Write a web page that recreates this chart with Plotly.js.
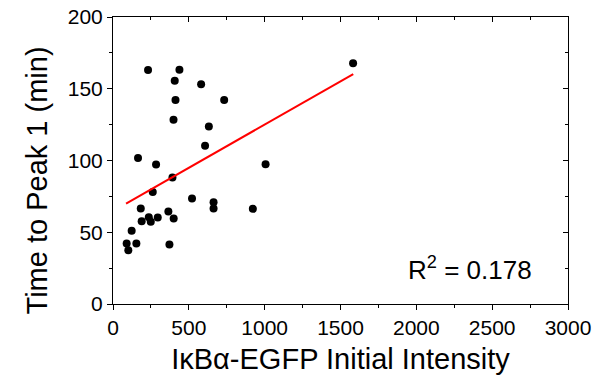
<!DOCTYPE html>
<html>
<head>
<meta charset="utf-8">
<script src="https://cdn.plot.ly/plotly-3.0.1.min.js"></script>
<style>html,body{margin:0;padding:0;background:#fff;}#chart{width:598px;height:377px;}</style>
</head>
<body>
<div id="chart"></div>
<script>
// Scatter data: IκBα-EGFP initial intensity vs time to peak 1 (min)
const intensity = [231, 438, 407, 581, 412, 733, 399, 632, 607, 165, 284, 1006, 392,
                   262, 521, 663, 663, 922, 183, 365, 236, 295, 189, 249, 400, 123,
                   90, 154, 372, 101, 1583];
const timeToPeak = [163.0, 163.2, 155.6, 153.2, 142.1, 142.1, 128.4, 123.7, 110.2, 101.8, 97.2, 97.4, 88.1,
                    78.1, 73.5, 70.9, 66.5, 66.3, 66.5, 64.4, 60.5, 60.2, 57.7, 57.4, 59.5, 51.1,
                    42.1, 42.1, 41.4, 37.5, 167.7];
// Linear fit endpoints (as drawn in the reference)
const fitX = [86, 1584];
const fitY = [70.0, 160.2];
const r2Label = "R<sup>2</sup> = 0.178";
const xTitle = 'IκBα-EGFP Initial Intensity';
const yTitle = 'Time to Peak 1 (min)';
const xTickVals = [0, 500, 1000, 1500, 2000, 2500, 3000];
const yTickVals = [0, 50, 100, 150, 200];

const font = "Liberation Sans, Arial, sans-serif";
const traces = [
  {x: intensity, y: timeToPeak, type: 'scatter', mode: 'markers',
   marker: {color: '#000', size: 8}, hoverinfo: 'skip', showlegend: false},
  {x: fitX, y: fitY, type: 'scatter', mode: 'lines',
   line: {color: '#ff0000', width: 2}, hoverinfo: 'skip', showlegend: false},
  {x: intensity, y: timeToPeak, xaxis: 'x2', yaxis: 'y2', type: 'scatter', mode: 'markers',
   marker: {opacity: 0}, hoverinfo: 'skip', showlegend: false}
];
const axBase = {showgrid: false, zeroline: false, showline: true, linecolor: '#000', linewidth: 1,
                tickcolor: '#000', tickfont: {family: font, size: 21, color: '#000'}};
const layout = {
  width: 598, height: 377,
  margin: {l: 113, r: 30, t: 17, b: 73},
  paper_bgcolor: '#fff', plot_bgcolor: '#fff',
  xaxis: Object.assign({}, axBase, {
    range: [0, 3000], tickvals: xTickVals, ticks: 'outside', ticklen: 5,
    minor: {ticks: 'outside', dtick: 250, ticklen: 3, tickcolor: '#000'},
    title: {text: xTitle, font: {family: font, size: 29, color: '#000'}, standoff: 10}
  }),
  yaxis: Object.assign({}, axBase, {
    range: [0, 200], tickvals: yTickVals, ticks: 'outside', ticklen: 5,
    minor: {ticks: 'outside', dtick: 25, ticklen: 3, tickcolor: '#000'}
  }),
  xaxis2: Object.assign({}, axBase, {
    overlaying: 'x', side: 'top', anchor: 'y2', range: [0, 3000], tickvals: xTickVals,
    ticks: 'inside', ticklen: 5, showticklabels: false,
    minor: {ticks: 'inside', dtick: 250, ticklen: 3, tickcolor: '#000'}
  }),
  yaxis2: Object.assign({}, axBase, {
    overlaying: 'y', side: 'right', anchor: 'x2', range: [0, 200], tickvals: yTickVals,
    ticks: 'inside', ticklen: 5, showticklabels: false,
    minor: {ticks: 'inside', dtick: 25, ticklen: 3, tickcolor: '#000'}
  }),
  annotations: [{
    x: 2354, y: 25, xref: 'x', yref: 'y', text: r2Label, showarrow: false,
    font: {family: font, size: 26, color: '#000'}
  }, {
    x: -0.166, y: 0.432, xref: 'paper', yref: 'paper', text: yTitle, textangle: -90,
    showarrow: false, xanchor: 'center', yanchor: 'middle',
    font: {family: font, size: 29, color: '#000'}
  }]
};
Plotly.newPlot('chart', traces, layout, {staticPlot: true, displayModeBar: false});
</script>
</body>
</html>
